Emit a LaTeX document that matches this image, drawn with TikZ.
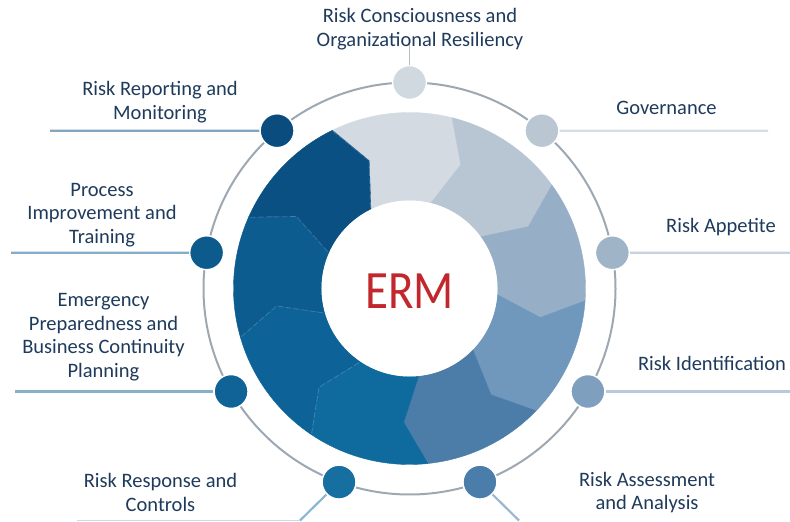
\documentclass[tikz,border=0pt]{standalone}
\usepackage{fontspec}
\setmainfont{Carlito}
\usepackage{graphicx}
\usetikzlibrary{calc}
\definecolor{txt}{HTML}{1F3B5C}
\definecolor{ermred}{HTML}{C1272D}
\definecolor{ringgray}{HTML}{9EA8B2}
\definecolor{sA}{HTML}{D3DAE2}
\definecolor{sB}{HTML}{B8C6D4}
\definecolor{sC}{HTML}{97AEC7}
\definecolor{sD}{HTML}{7098BD}
\definecolor{sE}{HTML}{4C7DA8}
\definecolor{sF}{HTML}{0F6B9E}
\definecolor{sG}{HTML}{0D6398}
\definecolor{sH}{HTML}{0C5C90}
\definecolor{sI}{HTML}{0B5083}
\definecolor{dA}{HTML}{D0D8E0}
\definecolor{dB}{HTML}{BAC6D2}
\definecolor{dC}{HTML}{A0B4C8}
\definecolor{dD}{HTML}{7F9FBF}
\definecolor{dE}{HTML}{4A7DAA}
\definecolor{dF}{HTML}{176EA0}
\definecolor{dG}{HTML}{0F6397}
\definecolor{dH}{HTML}{0D5A8D}
\definecolor{dI}{HTML}{0B4C7E}
\definecolor{topline}{HTML}{B4BCC4}
\tikzset{
  dot/.style={circle, inner sep=0pt, minimum size=34pt, draw=white, line width=1.5pt},
  lbl/.style={text=txt, align=center, inner sep=0pt, font=\fontsize{20.5}{23.5}\selectfont},
  conn/.style={line width=2.2pt},
}
\begin{document}
\begin{tikzpicture}[x=1pt,y=1pt]
\useasboundingbox (0,0) rectangle (790,522);
\fill[white] (0,0) rectangle (790,522);
\coordinate (c) at (409.5,233.5);
% outer thin circle
\draw[ringgray, line width=2pt] (c) circle[radius=206];
% ring segments
\begin{scope}[shift={(409.5,233.5)}]
\foreach \k/\col in {0/sA,1/sB,2/sC,3/sD,4/sE,5/sF,6/sG,7/sH,8/sI}{
  \pgfmathsetmacro{\ta}{116-40*\k}
  \pgfmathsetmacro{\tb}{76-40*\k}
  \pgfmathsetmacro{\ba}{\ta-8.5}
  \pgfmathsetmacro{\bb}{\tb-8.5}
  \fill[\col, draw=\col, line width=0.4pt] (\ta:176) arc[start angle=\ta, end angle=\tb, radius=176]
     -- (\bb:134) -- (\tb:88) arc[start angle=\tb, end angle=\ta, radius=88]
     -- (\ba:134) -- cycle;
}
% faint boundaries in the dark part
\foreach \k in {5,6,7,8}{
  \pgfmathsetmacro{\tb}{76-40*\k}
  \pgfmathsetmacro{\bb}{\tb-8.5}
  \draw[white, opacity=0.18, line width=0.8pt, dash pattern=on 6pt off 2pt] (\tb:175) -- (\bb:134) -- (\tb:89);
}
\end{scope}
\fill[white] (c) circle[radius=88];
\node[text=ermred, font=\fontsize{54}{54}\selectfont] (erm) at (409.5,231) {\scalebox{0.87}[1]{ERM}};
% dots
\node[dot, fill=dA] (d0) at ($(c)+(90:206)$) {};
\node[dot, fill=dB] (d1) at ($(c)+(50:206)$) {};
\node[dot, fill=dC] (d2) at ($(c)+(10:206)$) {};
\node[dot, fill=dD] (d3) at ($(c)+(-30:206)$) {};
\node[dot, fill=dE] (d4) at ($(c)+(-70:206)$) {};
\node[dot, fill=dF] (d5) at ($(c)+(-110:206)$) {};
\node[dot, fill=dG] (d6) at ($(c)+(-150:206)$) {};
\node[dot, fill=dH] (d7) at ($(c)+(170:206)$) {};
\node[dot, fill=dI] (d8) at ($(c)+(130:206)$) {};
% connector end points
\coordinate (e0) at (409.5,484);
\coordinate (e1) at (768,391.3);
\coordinate (e2) at (790,269.3);
\coordinate (e3) at (790,130.5);
\coordinate (e4) at (519,1.5);
\coordinate (e5) at (300,1.5);
\coordinate (e5b) at (77,1.5);
\coordinate (e6) at (15,130.5);
\coordinate (e7) at (11,269.3);
\coordinate (e8) at (50,391.3);
% connectors
\draw[line width=1.6pt, topline] (d0.north) -- (e0);
\draw[conn, dB!60!white] (d1) -- (e1);
\draw[conn, dC!60!white] (d2) -- (e2);
\draw[conn, dD!55!white] (d3) -- (e3);
\draw[conn, dE!55!white] (d4) -- (e4);
\draw[conn, dF!50!white] (d5) -- (e5);
\draw[conn, line width=1.5pt, dF!25!white] (e5) -- (e5b);
\draw[conn, dG!50!white] (d6) -- (e6);
\draw[conn, dH!50!white] (d7) -- (e7);
\draw[conn, dI!50!white] (d8) -- (e8);
% labels
\node[lbl] (t0) at (420,493) {Risk Consciousness and\\Organizational Resiliency};
\node[lbl] (t1) at (666.5,414) {Governance};
\node[lbl] (t2) at (721,295) {Risk Appetite};
\node[lbl] (t3) at (712,159) {Risk Identification};
\node[lbl] (t4) at (647,29.5) {Risk Assessment\\and Analysis};
\node[lbl] (t5) at (160.5,29.5) {Risk Response and\\Controls};
\node[lbl] (t6) at (103.5,185) {Emergency\\Preparedness and\\Business Continuity\\Planning};
\node[lbl] (t7) at (102,307) {Process\\Improvement and\\Training};
\node[lbl] (t8) at (160,420) {Risk Reporting and\\Monitoring};
\end{tikzpicture}
\end{document}
